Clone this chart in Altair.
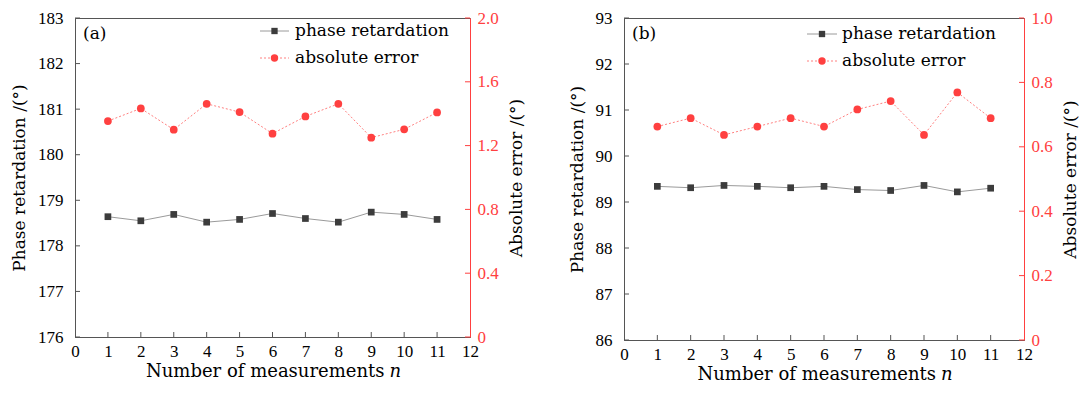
import altair as alt
import pandas as pd

# ---- data ----
n = list(range(1, 12))
phase_a = [178.64, 178.55, 178.69, 178.52, 178.58, 178.71, 178.60, 178.52, 178.74, 178.69, 178.58]
error_a = [1.354, 1.433, 1.300, 1.462, 1.410, 1.275, 1.383, 1.462, 1.250, 1.302, 1.408]
phase_b = [89.34, 89.31, 89.36, 89.34, 89.31, 89.34, 89.27, 89.25, 89.36, 89.22, 89.30]
error_b = [0.663, 0.689, 0.637, 0.663, 0.689, 0.663, 0.716, 0.742, 0.637, 0.769, 0.689]

x_ticks = list(range(0, 13))
inner_x_ticks = list(range(1, 12))
left_ticks_a = list(range(176, 184))
right_ticks_a = [0, 0.4, 0.8, 1.2, 1.6, 2.0]
left_ticks_b = list(range(86, 94))
right_ticks_b = [0, 0.2, 0.4, 0.6, 0.8, 1.0]

series_names = ["phase retardation", "absolute error"]
left_title = "Phase retardation /(°)"
right_title = "Absolute error /(°)"
x_title = "Number of measurements"
x_title_var = "n"

# ---- style ----
TICK_FONT = "Liberation Serif"
TEXT_FONT = "DejaVu Serif"
AX = "#555555"
RED = "#ff4040"
RED_LIGHT = "#ff8080"
GRAY_LINE = "#9a9a9a"
GRAY_PT = "#3c3c3c"


def panel(label, phase, error, ldom, lticks, rdom, rticks, W, H, leg):
    df = pd.DataFrame({"n": n, "phase": phase, "error": error})
    one = pd.DataFrame({"k": [0]})
    xs = alt.Scale(domain=[0, 12], nice=False, zero=False)
    ls = alt.Scale(domain=ldom, nice=False, zero=False)
    rs = alt.Scale(domain=rdom, nice=False, zero=False)
    x_axis = alt.Axis(values=x_ticks, ticks=False, tickSize=0, labelPadding=6,
                      labelFont=TICK_FONT, labelFontSize=17, labelColor="black",
                      domainColor=AX, title=None, grid=False, labelFlush=False,
                      labelOverlap=False)
    left_axis = alt.Axis(values=lticks, ticks=False, tickSize=0, labelPadding=12,
                         labelFont=TICK_FONT, labelFontSize=17, labelColor="black",
                         domainColor=AX, title=left_title, titleFont=TEXT_FONT,
                         titleFontSize=17, titleFontWeight="normal", titleColor="black",
                         titlePadding=9, grid=False, format="d")
    right_axis = alt.Axis(orient="right", values=rticks, ticks=False, tickSize=0,
                          labelPadding=7, labelFont=TICK_FONT, labelFontSize=17,
                          labelColor=RED,
                          labelExpr="datum.value == 0 ? '0' : format(datum.value, '.1f')",
                          domainColor=RED, title=right_title, titleFont=TEXT_FONT,
                          titleFontSize=17, titleFontWeight="normal", titleColor="black",
                          titleAngle=270, titleBaseline="top", titlePadding=10, grid=False)

    X = alt.X("n:Q", scale=xs, axis=x_axis)
    base = alt.Chart(df)
    phase_line = base.mark_line(color=GRAY_LINE, strokeWidth=1).encode(
        x=X, y=alt.Y("phase:Q", scale=ls, axis=left_axis))
    phase_pts = base.mark_point(shape="square", filled=True, size=45, color=GRAY_PT,
                                opacity=1).encode(x=X, y=alt.Y("phase:Q", scale=ls, axis=None))
    err_line = base.mark_line(color=RED_LIGHT, strokeWidth=1, strokeDash=[2, 2]).encode(
        x=X, y=alt.Y("error:Q", scale=rs, axis=right_axis))
    err_pts = base.mark_circle(size=60, color=RED, opacity=1).encode(
        x=X, y=alt.Y("error:Q", scale=rs, axis=None))

    # inward tick marks
    xt = alt.Chart(pd.DataFrame({"v": inner_x_ticks})).mark_rule(color=AX).encode(
        x=alt.X("v:Q", scale=xs, axis=x_axis), y=alt.value(H), y2=alt.value(H - 5))
    lt = alt.Chart(pd.DataFrame({"v": lticks})).mark_rule(color=AX).encode(
        y=alt.Y("v:Q", scale=ls, axis=None), x=alt.value(0), x2=alt.value(5))
    rt = alt.Chart(pd.DataFrame({"v": rticks})).mark_rule(color=RED).encode(
        y=alt.Y("v:Q", scale=rs, axis=None), x=alt.value(W), x2=alt.value(W - 5))

    # legend, panel label and x title
    lx0, lx1, tx, ly1, ly2 = leg
    oc = alt.Chart(one)
    leg_layers = [
        oc.mark_rule(color=GRAY_LINE, strokeWidth=1).encode(
            x=alt.value(lx0), x2=alt.value(lx1), y=alt.value(ly1)),
        oc.mark_point(shape="square", filled=True, size=40, color=GRAY_PT, opacity=1).encode(
            x=alt.value((lx0 + lx1) / 2), y=alt.value(ly1)),
        oc.mark_text(align="left", baseline="middle", font=TEXT_FONT, fontSize=17,
                     color="black", text=series_names[0]).encode(
            x=alt.value(tx), y=alt.value(ly1)),
        oc.mark_rule(color=RED_LIGHT, strokeWidth=1, strokeDash=[2, 2]).encode(
            x=alt.value(lx0), x2=alt.value(lx1), y=alt.value(ly2)),
        oc.mark_circle(size=55, color=RED, opacity=1).encode(
            x=alt.value((lx0 + lx1) / 2), y=alt.value(ly2)),
        oc.mark_text(align="left", baseline="middle", font=TEXT_FONT, fontSize=17,
                     color="black", text=series_names[1]).encode(
            x=alt.value(tx), y=alt.value(ly2)),
        oc.mark_text(align="left", baseline="middle", font=TEXT_FONT, fontSize=17,
                     color="black", text=label).encode(
            x=alt.value(8), y=alt.value(16)),
        oc.mark_text(align="right", baseline="middle", font=TEXT_FONT, fontSize=18,
                     color="black", text=x_title).encode(
            x=alt.value(W / 2 + 112), y=alt.value(H + 35)),
        oc.mark_text(align="left", baseline="middle", font=TEXT_FONT, fontSize=18,
                     fontStyle="italic", color="black", text=x_title_var).encode(
            x=alt.value(W / 2 + 117), y=alt.value(H + 35)),
    ]

    return alt.layer(phase_line, phase_pts, lt, xt, err_line, err_pts, rt,
                     *leg_layers).resolve_scale(y="independent").properties(width=W, height=H)


pa = panel("(a)", phase_a, error_a, [176, 183], left_ticks_a, [0, 2.0], right_ticks_a,
           395, 319, (185, 214, 220, 13, 40))
pb = panel("(b)", phase_b, error_b, [86, 93], left_ticks_b, [0, 1.0], right_ticks_b,
           400, 322, (183, 213, 218, 16, 43))

chart = alt.hconcat(pa, pb, spacing=42).properties(
    padding={"left": 2, "top": 0, "right": 0, "bottom": 0}
).configure_view(stroke=AX, strokeWidth=1)

chart.save("out.html", embed_options={"renderer": "svg", "actions": False})
